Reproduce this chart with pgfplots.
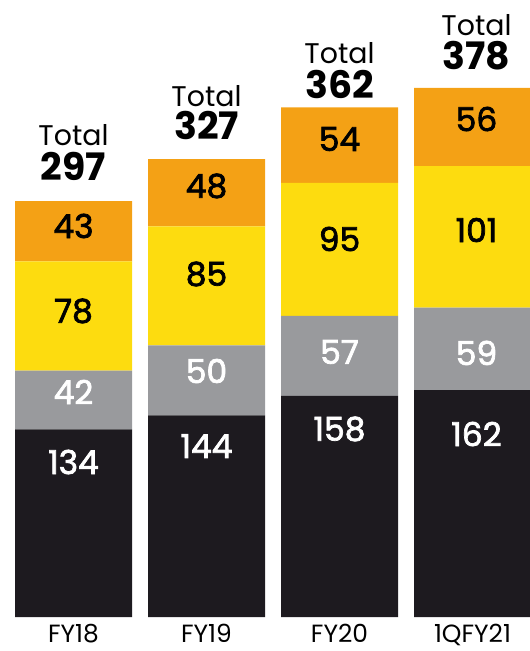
\documentclass[border=0pt]{standalone}
\usepackage{fontspec}
\setmainfont{Poppins}
\newfontfamily\pmed{Poppins}[FakeBold=2.2]
\usepackage{pgfplots}
\pgfplotsset{compat=1.18}
\usepackage{pgfplotstable}

\definecolor{eyblack}{HTML}{1D1A1F}
\definecolor{eygray}{HTML}{999A9D}
\definecolor{eyyellow}{HTML}{FDDC0F}
\definecolor{eyorange}{HTML}{F4A115}

\pgfplotstableread{
x black gray yellow orange
0 134 42 78 43
1 144 50 85 48
2 158 57 95 54
3 162 59 101 56
}\datatable

% label positions (value units) and texts
\pgfplotstableread{
x y lab
0 110.7 134
1 122.1 144
2 134.3 158
3.03 130.7 162
}\labblack
\pgfplotstableread{
x y lab
0 160.7 42
1 175.7 50
2 189.3 57
3.03 188.6 59
}\labgray
\pgfplotstableread{
x y lab
0 218.6 78
1 245.0 85
2 270.0 95
3.03 276.4 101
}\labyellow
\pgfplotstableread{
x y lab
0 279.3 43
1 307.9 48
2 341.4 54
3.03 355.7 56
}\laborange
\pgfplotstableread{
x y lab
0 344.3 Total
1 372.1 Total
2 402.5 Total
3.03 422.9 Total
}\labtotalword
\pgfplotstableread{
x y lab
0 321.8 297
1 351.1 327
2 380.4 362
3.03 401.1 378
}\labtotal

\pgfplotsset{
  base/.style={
    at={(0,34bp)}, anchor=south west, scale only axis,
    width=530bp, height=617bp,
    xmin=-0.55263, xmax=3.43233, ymin=0, ymax=440.71,
    clip=false,
  },
  lab/.style={
    only marks, mark=*, mark size=0pt, mark options={draw=none,fill=none},
    nodes near coords, point meta=explicit symbolic,
    nodes near coords align={center},
    every node near coord/.append style={anchor=center, inner sep=0pt, #1},
  },
}

\begin{document}
\begin{tikzpicture}
\useasboundingbox (0,0) rectangle (530bp,651bp);
\begin{axis}[base,
  ybar stacked, bar width=117bp,
  axis line style={draw=none}, ytick=\empty, major tick length=0pt,
  xtick={0,1,2,3}, xticklabels={FY18,FY19,FY20,1QFY21},
  xticklabel style={font=\fontsize{25}{25}\selectfont, anchor=base, yshift=-25bp, inner sep=0pt},
]
\addplot[fill=eyblack, draw=none] table[x=x,y=black]{\datatable};
\addplot[fill=eygray, draw=none] table[x=x,y=gray]{\datatable};
\addplot[fill=eyyellow, draw=none] table[x=x,y=yellow]{\datatable};
\addplot[fill=eyorange, draw=none] table[x=x,y=orange]{\datatable};
\end{axis}
\begin{axis}[base, hide axis]
\addplot[lab={text=white, font=\pmed\fontsize{33}{33}\selectfont}] table[x=x,y=y,meta=lab]{\labblack};
\addplot[lab={text=white, font=\pmed\fontsize{33}{33}\selectfont}] table[x=x,y=y,meta=lab]{\labgray};
\addplot[lab={text=black, font=\pmed\fontsize{33}{33}\selectfont}] table[x=x,y=y,meta=lab]{\labyellow};
\addplot[lab={text=black, font=\pmed\fontsize{33}{33}\selectfont}] table[x=x,y=y,meta=lab]{\laborange};
\addplot[lab={text=black, font=\fontsize{28.5}{28.5}\selectfont}] table[x=x,y=y,meta=lab]{\labtotalword};
\addplot[lab={text=black, font=\bfseries\fontsize{38}{38}\selectfont}] table[x=x,y=y,meta=lab]{\labtotal};
\end{axis}
\end{tikzpicture}
\end{document}
